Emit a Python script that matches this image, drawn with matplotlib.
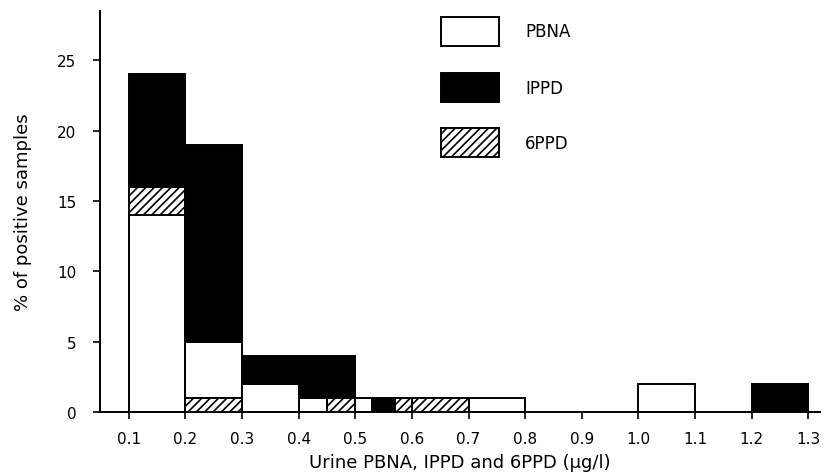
import matplotlib
matplotlib.use("Agg")
import matplotlib.pyplot as plt
from matplotlib.patches import Rectangle

# ---------------------------------------------------
# Data: each block is (left edge, width, bottom, height) in ug/l and %
# ---------------------------------------------------
pbna_left = [0.1, 0.2, 0.3, 0.4, 0.5, 0.7, 1.0]
pbna_width = [0.1, 0.1, 0.1, 0.05, 0.03, 0.1, 0.1]
pbna_bottom = [0, 1, 0, 0, 0, 0, 0]
pbna_height = [14, 4, 2, 1, 1, 1, 2]

ippd_left = [0.1, 0.2, 0.3, 0.4, 0.53, 1.2]
ippd_width = [0.1, 0.1, 0.1, 0.1, 0.04, 0.1]
ippd_bottom = [16, 5, 2, 1, 0, 0]
ippd_height = [8, 14, 2, 3, 1, 2]

ppd6_left = [0.1, 0.2, 0.45, 0.57, 0.6]
ppd6_width = [0.1, 0.1, 0.05, 0.03, 0.1]
ppd6_bottom = [14, 0, 0, 0, 0]
ppd6_height = [2, 1, 1, 1, 1]

series_names = ["PBNA", "IPPD", "6PPD"]
x_ticks = [0.1, 0.2, 0.3, 0.4, 0.5, 0.6, 0.7, 0.8, 0.9, 1.0, 1.1, 1.2, 1.3]
y_ticks = [0, 5, 10, 15, 20, 25]

plt.rcParams['hatch.linewidth'] = 1.2

fig = plt.figure(figsize=(8.28, 4.77), dpi=100)
ax = fig.add_axes([0.1208, 0.1342, 0.8696, 0.8407])

styles = {
    "PBNA": dict(facecolor="white", edgecolor="black", hatch=None),
    "IPPD": dict(facecolor="black", edgecolor="black", hatch=None),
    "6PPD": dict(facecolor="white", edgecolor="black", hatch="////"),
}

for name, lefts, widths, bottoms, heights in [
    ("PBNA", pbna_left, pbna_width, pbna_bottom, pbna_height),
    ("IPPD", ippd_left, ippd_width, ippd_bottom, ippd_height),
    ("6PPD", ppd6_left, ppd6_width, ppd6_bottom, ppd6_height),
]:
    ax.bar(lefts, heights, width=widths, bottom=bottoms, align="edge",
           linewidth=1.4, zorder=2, **styles[name])

ax.set_xlim(0.049, 1.321)
ax.set_ylim(0, 28.5)
ax.set_xticks(x_ticks)
ax.set_xticklabels([f"{t:.1f}" for t in x_ticks], fontsize=11)
ax.set_yticks(y_ticks)
ax.set_yticklabels([str(t) for t in y_ticks], fontsize=11)
ax.tick_params(direction="out", length=5, width=1.2)
ax.tick_params(axis="x", pad=9)
ax.tick_params(axis="y", pad=12)

for side in ["top", "right"]:
    ax.spines[side].set_visible(False)
for side in ["left", "bottom"]:
    ax.spines[side].set_linewidth(1.4)

ax.set_xlabel("Urine PBNA, IPPD and 6PPD (\u03bcg/l)", fontsize=13, labelpad=5)
ax.set_ylabel("% of positive samples", fontsize=13, labelpad=18)

# legend boxes drawn by hand to match the spacing of the original
legend_y = [26.0, 22.0, 18.1]
for name, ly in zip(series_names, legend_y):
    st = styles[name]
    ax.add_patch(Rectangle((0.652, ly), 0.102, 2.1, facecolor=st["facecolor"],
                           edgecolor="black", hatch=st["hatch"],
                           linewidth=1.4, zorder=3))
    ax.text(0.80, ly + 1.05, name, fontsize=12, va="center", ha="left")

fig.savefig("out.png", dpi=100)
